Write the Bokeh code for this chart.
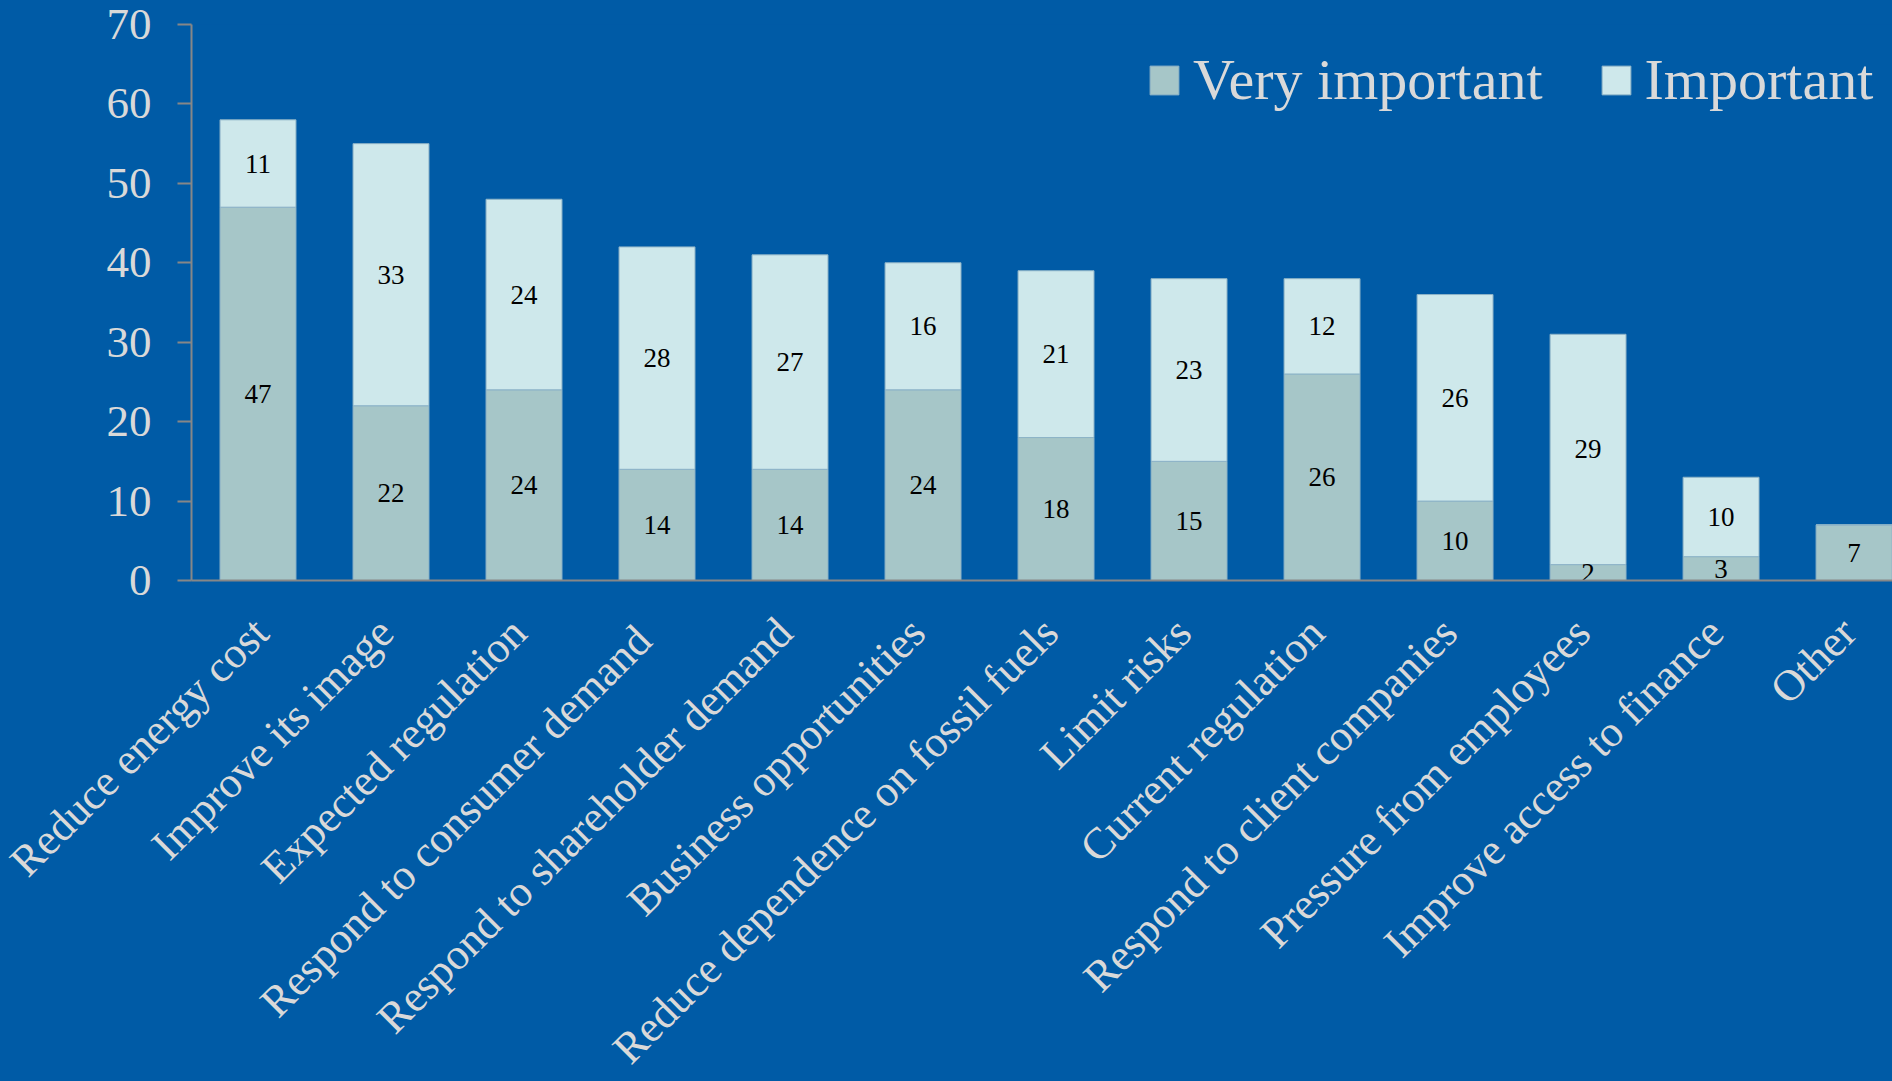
import math
from bokeh.plotting import figure
from bokeh.models import ColumnDataSource, Range1d, FixedTicker
from bokeh.core.properties import value
from bokeh.embed import file_html
from bokeh.resources import INLINE

# ---- data ----
categories = [
    "Reduce energy cost",
    "Improve its image",
    "Expected regulation",
    "Respond  to consumer demand",
    "Respond to shareholder demand",
    "Business opportunities",
    "Reduce dependence on fossil fuels",
    "Limit risks",
    "Current regulation",
    "Respond to client companies",
    "Pressure from employees",
    "Improve access to finance",
    "Other",
]
very_important = [47, 22, 24, 14, 14, 24, 18, 15, 26, 10, 2, 3, 7]
important = [11, 33, 24, 28, 27, 16, 21, 23, 12, 26, 29, 10, 0]
y_ticks = [0, 10, 20, 30, 40, 50, 60, 70]
series_names = ["Very important", "Important"]

# ---- style ----
BG = "#005BA6"
C_VERY = "#A6C6C8"
C_IMP = "#CEE8EB"
EDGE = "#8DB3C7"
TXT = "#D9D9D9"
AXIS = "#878787"
FONT = "Liberation Serif"
LABEL_SHIFT = -0.04   # horizontal nudge of rotated category labels (category units)

xs = list(range(len(categories)))
src = ColumnDataSource(dict(x=xs, very=very_important, imp=important))

p = figure(
    frame_width=1701, frame_height=556,
    x_range=Range1d(-0.5, 12.289), y_range=Range1d(0, 70),
    output_backend="svg", toolbar_location=None,
    min_border_left=191, min_border_top=24, min_border_right=0, min_border_bottom=0,
)
p.background_fill_color = BG
p.border_fill_color = BG
p.outline_line_color = None
p.xgrid.visible = False
p.ygrid.visible = False

p.vbar_stack(["very", "imp"], x="x", width=0.571, source=src,
             color=[C_VERY, C_IMP], line_color=EDGE, line_width=1,
             legend_label=series_names)

# segment labels
lx, ly, lt = [], [], []
for i, (v, m) in enumerate(zip(very_important, important)):
    if v > 0:
        lx.append(i); ly.append(v / 2); lt.append(str(v))
    if m > 0:
        lx.append(i); ly.append(v + m / 2); lt.append(str(m))
lsrc = ColumnDataSource(dict(x=lx, y=ly, t=lt))
p.text(x="x", y="y", text="t", source=lsrc, text_align="center",
       text_baseline="middle", text_font=value(FONT),
       text_font_size="27px", text_color="black")

# y axis
ya = p.yaxis[0]
ya.ticker = FixedTicker(ticks=y_ticks)
ya.minor_tick_line_color = None
ya.major_tick_in = 0
ya.major_tick_out = 14
ya.major_tick_line_color = AXIS
ya.major_tick_line_width = 2
ya.axis_line_color = AXIS
ya.axis_line_width = 2
ya.major_label_text_font = FONT
ya.major_label_text_font_size = "45px"
ya.major_label_text_color = TXT
ya.major_label_standoff = 26

# x axis
tick_pos = [i + LABEL_SHIFT for i in xs]
xa = p.xaxis[0]
xa.ticker = FixedTicker(ticks=tick_pos)
xa.major_label_overrides = {t: c for t, c in zip(tick_pos, categories)}
xa.minor_tick_line_color = None
xa.major_tick_in = 0
xa.major_tick_out = 0
xa.major_tick_line_color = None
xa.axis_line_color = AXIS
xa.axis_line_width = 2
xa.major_label_orientation = math.pi / 4
xa.major_label_text_font = FONT
xa.major_label_text_font_size = "44px"
xa.major_label_text_color = TXT
xa.major_label_standoff = 45

# legend
lg = p.legend[0]
lg.orientation = "horizontal"
lg.location = (955, 467)
lg.label_text_font = FONT
lg.label_text_font_size = "58px"
lg.label_text_color = TXT
lg.glyph_width = 36
lg.glyph_height = 36
lg.label_standoff = 11
lg.spacing = 55
lg.padding = 0
lg.margin = 0
lg.background_fill_alpha = 0
lg.border_line_alpha = 0

html = file_html(p, INLINE)
html = html.replace("<head>", "<head><style>body{background:%s;overflow:hidden;}</style>" % BG, 1)
open("out.html", "w").write(html)
